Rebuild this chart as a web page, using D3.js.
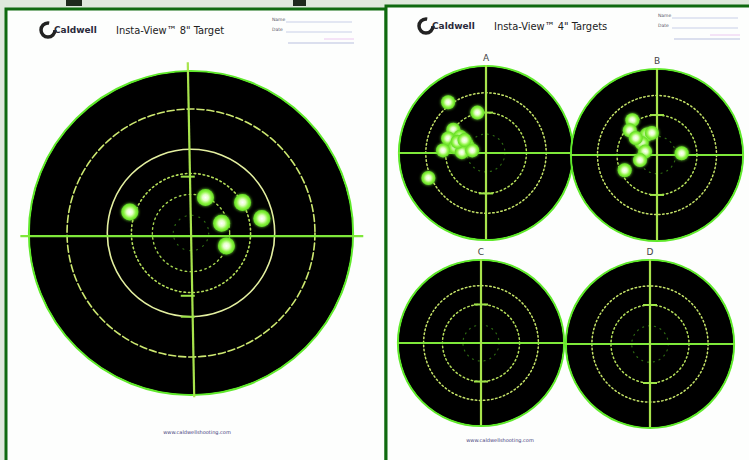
<!DOCTYPE html>
<html>
<head>
<meta charset="utf-8">
<script src="https://cdn.jsdelivr.net/npm/d3@7"></script>
<style>
  html, body { margin: 0; padding: 0; background: #dde8da; }
  svg { display: block; }
</style>
</head>
<body>
<div id="chart"></div>
<script>
// Target names and header texts
const panelTitles = ['Insta-View\u2122 8" Target', 'Insta-View\u2122 4" Targets'];
const smallLabels = ['A', 'B', 'C', 'D'];
const footerText = 'www.caldwellshooting.com';

// Ring radii as share of the target radius
const bigRings = [0.77, 0.52, 0.37, 0.24, 0.11];
const smallRings = [0.70, 0.47, 0.22];

// Shot holes, offsets from the centre in target radii (y up)
const mainShotsX = [-0.38, 0.09, 0.32, 0.44, 0.19, 0.22];
const mainShotsY = [0.13, 0.22, 0.19, 0.09, 0.06, -0.08];
const shotsAX = [-0.44, -0.10, -0.38, -0.44, -0.30, -0.22, -0.36, -0.28, -0.16, -0.50, -0.33, -0.25, -0.67];
const shotsAY = [0.59, 0.47, 0.27, 0.17, 0.19, 0.09, 0.07, 0.01, 0.03, 0.03, 0.13, 0.15, -0.29];
const shotsBX = [-0.29, -0.32, -0.12, -0.06, -0.18, -0.14, -0.20, -0.25, 0.29, -0.38];
const shotsBY = [0.41, 0.29, 0.24, 0.26, 0.14, 0.04, -0.06, 0.20, 0.02, -0.18];
const shotsCX = [];
const shotsCY = [];
const shotsDX = [];
const shotsDY = [];

const width = 749, height = 460;

const svg = d3.select('#chart')
    .append('svg')
    .attr('width', width)
    .attr('height', height);

// Glow filter for the fluorescent bits
const defs = svg.append('defs');
const glow = defs.append('filter').attr('id', 'glow')
    .attr('x', '-50%').attr('y', '-50%').attr('width', '200%').attr('height', '200%');
glow.append('feGaussianBlur').attr('stdDeviation', 1.6).attr('result', 'b');
const merge = glow.append('feMerge');
merge.append('feMergeNode').attr('in', 'b');
merge.append('feMergeNode').attr('in', 'SourceGraphic');

const soft = defs.append('filter').attr('id', 'soft')
    .attr('x', '-10%').attr('y', '-10%').attr('width', '120%').attr('height', '120%');
soft.append('feGaussianBlur').attr('stdDeviation', 0.6);

const holeGrad = defs.append('radialGradient').attr('id', 'hole');
holeGrad.append('stop').attr('offset', '0%').attr('stop-color', '#ffffff');
holeGrad.append('stop').attr('offset', '35%').attr('stop-color', '#e6ffc8');
holeGrad.append('stop').attr('offset', '70%').attr('stop-color', '#8cf542');
holeGrad.append('stop').attr('offset', '100%').attr('stop-color', '#5fd820');

// Backdrop strip at the top of the photo
svg.append('rect').attr('x', 0).attr('y', 0).attr('width', width).attr('height', height).attr('fill', '#dfe9dc');
svg.append('rect').attr('x', 66).attr('y', 0).attr('width', 16).attr('height', 6).attr('fill', '#1e2a1c');
svg.append('rect').attr('x', 293).attr('y', 0).attr('width', 13).attr('height', 6).attr('fill', '#1e2a1c');

// Paper sheets
const sheets = [
    { x: 6, y: 9, w: 380, h: 460 },
    { x: 386, y: 6, w: 370, h: 460 }
];
sheets.forEach(s => {
    svg.append('rect')
        .attr('x', s.x).attr('y', s.y).attr('width', s.w).attr('height', s.h)
        .attr('fill', '#fdfefd')
        .attr('stroke', '#0f6a0f')
        .attr('stroke-width', 3);
});

// Headers
function drawHeader(x, y, title, fx) {
    const g = svg.append('g').attr('transform', `translate(${x},${y})`);
    g.append('circle').attr('cx', 8).attr('cy', 0).attr('r', 7)
        .attr('fill', 'none').attr('stroke', '#222').attr('stroke-width', 3.5)
        .attr('stroke-dasharray', '34 10');
    g.append('text').attr('x', 14).attr('y', 3)
        .attr('font-family', 'DejaVu Sans, sans-serif').attr('font-size', 9).attr('font-weight', 'bold')
        .attr('fill', '#2a2a3a').text('Caldwell');
    g.append('text').attr('x', 76).attr('y', 4)
        .attr('font-family', 'DejaVu Sans Condensed, sans-serif').attr('font-size', 11)
        .attr('fill', '#222').text(title);
    // form fields
    const f = svg.append('g').attr('transform', `translate(${fx},${y})`);
    [-9, 1].forEach((dy, i) => {
        f.append('text').attr('x', 0).attr('y', dy)
            .attr('font-family', 'DejaVu Sans, sans-serif').attr('font-size', 4.5)
            .attr('fill', '#556').text(i === 0 ? 'Name' : 'Date');
        f.append('line').attr('x1', 14).attr('x2', 80).attr('y1', dy + 1).attr('y2', dy + 1)
            .attr('stroke', '#c8cfe8').attr('stroke-width', 1);
    });
    f.append('line').attr('x1', 16).attr('x2', 82).attr('y1', 13).attr('y2', 13)
        .attr('stroke', '#b9bfdf').attr('stroke-width', 1.2);
    f.append('line').attr('x1', 52).attr('x2', 82).attr('y1', 9).attr('y2', 9)
        .attr('stroke', '#ecc8f0').attr('stroke-width', 1);
}
drawHeader(40, 30, panelTitles[0], 272);
drawHeader(418, 26, panelTitles[1], 658);

// Footers
svg.append('text').attr('x', 197).attr('y', 434).attr('text-anchor', 'middle')
    .attr('font-family', 'DejaVu Sans, sans-serif').attr('font-size', 5).attr('fill', '#3d3a7a')
    .text(footerText);
svg.append('text').attr('x', 500).attr('y', 442).attr('text-anchor', 'middle')
    .attr('font-family', 'DejaVu Sans, sans-serif').attr('font-size', 5).attr('fill', '#3d3a7a')
    .text(footerText);

// Ring styles for big and small targets
const bigRingStyles = [
    { color: '#cde870', width: 1.6, dash: '7 3' },
    { color: '#e4f0a0', width: 1.6, dash: null },
    { color: '#b6e05a', width: 1.6, dash: '1.5 3' },
    { color: '#a6d650', width: 1.4, dash: '1.5 3.5' },
    { color: '#2e6a12', width: 1.2, dash: '1 6' }
];
const smallRingStyles = [
    { color: '#c6e468', width: 1.5, dash: '1.5 2.6' },
    { color: '#b6e05a', width: 1.5, dash: '1.5 2.8' },
    { color: '#2e6a12', width: 1.2, dash: '1 5' }
];

function drawTarget(spec) {
    const x = d3.scaleLinear().domain([-1, 1]).range([spec.cx - spec.r, spec.cx + spec.r]);
    const y = d3.scaleLinear().domain([-1, 1]).range([spec.cy + spec.r, spec.cy - spec.r]);
    const k = spec.r;
    const g = svg.append('g');

    // black disc with green rim
    g.append('circle').attr('cx', x(0)).attr('cy', y(0)).attr('r', k + 1)
        .attr('fill', '#000').attr('stroke', '#5ee82a').attr('stroke-width', 2.2)
        .attr('filter', 'url(#soft)');
    g.append('circle').attr('cx', x(0)).attr('cy', y(0)).attr('r', k)
        .attr('fill', '#000');

    // scoring rings
    g.selectAll('.ring')
        .data(spec.rings)
        .enter()
        .append('circle')
        .attr('class', 'ring')
        .attr('cx', x(0)).attr('cy', y(0))
        .attr('r', d => x(d) - x(0))
        .attr('fill', 'none')
        .attr('stroke', (d, i) => spec.styles[i].color)
        .attr('stroke-width', (d, i) => spec.styles[i].width)
        .attr('stroke-linecap', 'round')
        .attr('stroke-dasharray', (d, i) => spec.styles[i].dash);

    // crosshair
    const [hx0, hx1] = spec.hLine;
    const [vy0, vy1] = spec.vLine;
    g.append('line')
        .attr('x1', x(hx0)).attr('x2', x(hx1))
        .attr('y1', y(spec.hOff)).attr('y2', y(spec.hOff))
        .attr('stroke', '#7fe83a').attr('stroke-width', 2.2);
    g.append('line')
        .attr('x1', x(spec.vOff[0])).attr('x2', x(spec.vOff[1]))
        .attr('y1', y(vy0)).attr('y2', y(vy1))
        .attr('stroke', '#a8e44c').attr('stroke-width', 2.2);

    // graduation dashes on the vertical line
    g.selectAll('.tick')
        .data(spec.ticks)
        .enter()
        .append('line')
        .attr('x1', d => x(spec.vOff[0]) - 7)
        .attr('x2', d => x(spec.vOff[0]) + 7)
        .attr('y1', d => y(d)).attr('y2', d => y(d))
        .attr('stroke', '#9ee448').attr('stroke-width', 2);

    // shot holes
    const shots = spec.shotsX.map((sx, i) => ({ x: sx, y: spec.shotsY[i] }));
    g.selectAll('.hole')
        .data(shots)
        .enter()
        .append('circle')
        .attr('class', 'hole')
        .attr('cx', d => x(d.x)).attr('cy', d => y(d.y))
        .attr('r', spec.holeR)
        .attr('fill', 'url(#hole)')
        .attr('filter', 'url(#glow)');

    if (spec.label) {
        svg.append('text')
            .attr('x', x(0)).attr('y', y(1) - 6)
            .attr('text-anchor', 'middle')
            .attr('font-family', 'DejaVu Sans, sans-serif').attr('font-size', 9)
            .attr('fill', '#444')
            .text(spec.label);
    }
}

// Main 8" target
drawTarget({
    cx: 191, cy: 233, r: 161,
    rings: bigRings, styles: bigRingStyles,
    hLine: [-1.06, 1.07], hOff: -0.02,
    vLine: [1.06, -1.02], vOff: [-0.02, 0.02],
    ticks: [0.35, -0.39, -0.52],
    shotsX: mainShotsX, shotsY: mainShotsY, holeR: 8.5
});

// Four 4" targets
const smallCentres = [[486, 153, 86], [657, 155, 85], [481, 343, 82], [650, 344, 83]];
const smallShots = [[shotsAX, shotsAY], [shotsBX, shotsBY], [shotsCX, shotsCY], [shotsDX, shotsDY]];
smallCentres.forEach(([cx, cy, r], i) => {
    drawTarget({
        cx: cx, cy: cy, r: r,
        rings: smallRings, styles: smallRingStyles,
        hLine: [-1.02, 1.02], hOff: 0,
        vLine: [1.02, -1.0], vOff: [0, 0],
        ticks: [0.47, -0.47],
        shotsX: smallShots[i][0], shotsY: smallShots[i][1], holeR: 7,
        label: smallLabels[i]
    });
});
</script>
</body>
</html>
